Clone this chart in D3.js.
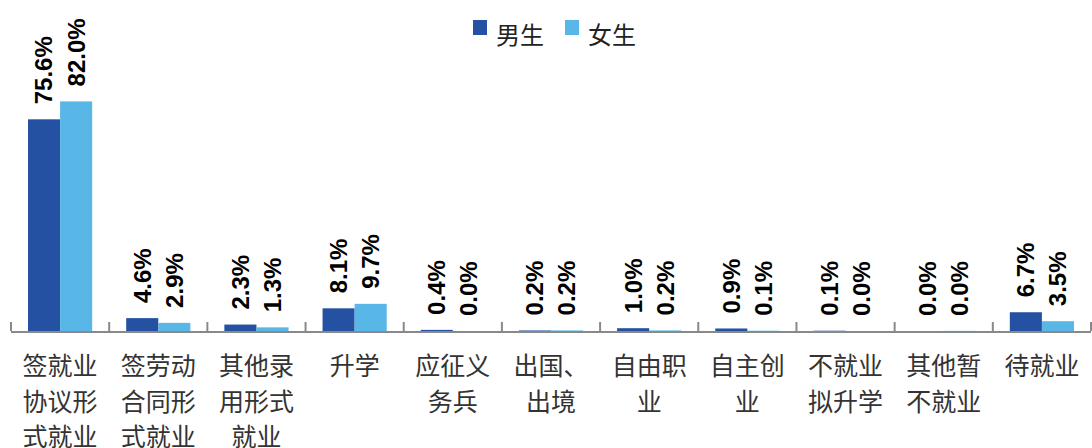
<!DOCTYPE html>
<html>
<head>
<meta charset="utf-8">
<script src="https://cdn.jsdelivr.net/npm/d3@7"></script>
<style>
  body { margin: 0; background: #fff; }
  svg { display: block; }
</style>
</head>
<body>
<div id="wrapper"></div>
<script>
// data
const categories = [
  "签就业\n协议形\n式就业",
  "签劳动\n合同形\n式就业",
  "其他录\n用形式\n就业",
  "升学",
  "应征义\n务兵",
  "出国、\n出境",
  "自由职\n业",
  "自主创\n业",
  "不就业\n拟升学",
  "其他暂\n不就业",
  "待就业"
]
const seriesNames = ["男生", "女生"]
const maleValues   = [75.6, 4.6, 2.3, 8.1, 0.4, 0.2, 1.0, 0.9, 0.1, 0.0, 6.7]
const femaleValues = [82.0, 2.9, 1.3, 9.7, 0.0, 0.2, 0.2, 0.1, 0.0, 0.04, 3.5]
const colors = ["#2451a1", "#58b7e7"]

function drawBars() {
  const dataset = categories.map((c, i) => ({
    category: c,
    values: [maleValues[i], femaleValues[i]]
  }))

  const dimensions = {
    width: 1092,
    height: 448,
    margin: { top: 79, right: 1, bottom: 117, left: 11 }
  }
  dimensions.boundedWidth = dimensions.width - dimensions.margin.left - dimensions.margin.right
  dimensions.boundedHeight = dimensions.height - dimensions.margin.top - dimensions.margin.bottom

  const wrapper = d3.select("#wrapper")
    .append("svg")
      .attr("width", dimensions.width)
      .attr("height", dimensions.height)

  const bounds = wrapper.append("g")
      .attr("transform", `translate(${dimensions.margin.left},${dimensions.margin.top})`)

  // scales
  const xScale = d3.scaleBand()
    .domain(categories)
    .range([0, dimensions.boundedWidth])
    .padding(0)

  const subScale = d3.scaleBand()
    .domain(seriesNames)
    .range([0, xScale.bandwidth()])
    .paddingInner(0)
    .paddingOuter(0.53)

  const yScale = d3.scaleLinear()
    .domain([0, 90])
    .range([dimensions.boundedHeight, 0])

  // bars
  const groups = bounds.selectAll(".cat")
    .data(dataset)
    .enter().append("g")
      .attr("class", "cat")
      .attr("transform", d => `translate(${xScale(d.category)},0)`)

  const cells = groups.selectAll(".cell")
    .data(d => d.values.map((v, i) => ({ key: seriesNames[i], value: v, i })))
    .enter().append("g")
      .attr("class", "cell")

  cells.append("rect")
      .attr("x", d => subScale(d.key))
      .attr("y", d => yScale(d.value))
      .attr("width", subScale.bandwidth())
      .attr("height", d => dimensions.boundedHeight - yScale(d.value))
      .attr("fill", d => colors[d.i])

  cells.append("text")
      .attr("transform", d => `translate(${subScale(d.key) + subScale.bandwidth() / 2},${yScale(d.value) - 15}) rotate(-90)`)
      .attr("dy", "0.35em")
      .attr("text-anchor", "start")
      .style("font-family", "'Liberation Sans', Arial, sans-serif")
      .style("font-weight", "bold")
      .style("font-size", "24px")
      .attr("fill", "#000")
      .text(d => d.value.toFixed(1) + "%")

  // axis line and ticks
  const axis = bounds.append("g")
      .attr("transform", `translate(0,${dimensions.boundedHeight})`)

  axis.append("line")
      .attr("x1", 0)
      .attr("x2", dimensions.boundedWidth)
      .attr("y1", 1)
      .attr("y2", 1)
      .attr("stroke", "#898989")
      .attr("stroke-width", 2)

  const tickPositions = categories.map(c => xScale(c)).concat([dimensions.boundedWidth])
  axis.selectAll(".tick")
    .data(tickPositions)
    .enter().append("line")
      .attr("x1", d => d)
      .attr("x2", d => d)
      .attr("y1", 0)
      .attr("y2", -9)
      .attr("stroke", "#898989")
      .attr("stroke-width", 2)

  // category labels
  const labels = axis.selectAll(".label")
    .data(categories)
    .enter().append("text")
      .attr("class", "label")
      .attr("x", d => xScale(d) + xScale.bandwidth() / 2)
      .attr("y", 44)
      .attr("text-anchor", "middle")
      .style("font-family", "'Noto Sans CJK SC', sans-serif")
      .style("font-size", "25px")
      .attr("fill", "#333")

  labels.selectAll("tspan")
    .data(d => d.split("\n").map(line => ({ line, x: xScale(d) + xScale.bandwidth() / 2 })))
    .enter().append("tspan")
      .attr("x", d => d.x)
      .attr("dy", (d, i) => i === 0 ? 0 : 35.5)
      .text(d => d.line)

  // legend
  const legend = wrapper.append("g")
      .attr("transform", "translate(473,20)")

  const legendItems = legend.selectAll("g")
    .data(seriesNames)
    .enter().append("g")
      .attr("transform", (d, i) => `translate(${i * 92},0)`)

  legendItems.append("rect")
      .attr("width", 14)
      .attr("height", 15)
      .attr("fill", (d, i) => colors[i])

  legendItems.append("text")
      .attr("x", 23)
      .attr("y", 16)
      .attr("dy", "0.35em")
      .style("font-family", "'Noto Sans CJK SC', sans-serif")
      .style("font-size", "24px")
      .attr("fill", "#222")
      .text(d => d)
}
drawBars()
</script>
</body>
</html>
